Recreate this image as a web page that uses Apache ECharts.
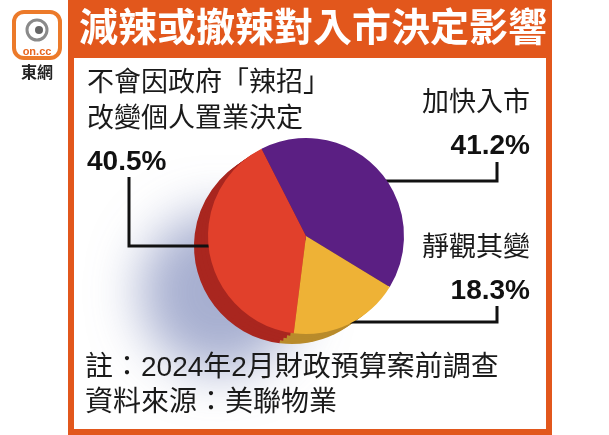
<!DOCTYPE html>
<html>
<head>
<meta charset="utf-8">
<script src="https://cdn.jsdelivr.net/npm/echarts@6/dist/echarts.min.js"></script>
<style>
  html, body { margin: 0; padding: 0; background: #fff; }
  #chart { width: 609px; height: 435px; }
</style>
</head>
<body>
<div id="chart"></div>
<script>
// 資料
const categories = ['加快入市', '靜觀其變', '不會因政府「辣招」\n改變個人置業決定'];
const shares = [41.2, 18.3, 40.5];
const titleText = '減辣或撤辣對入市決定影響';
const noteLines = ['註：2024年2月財政預算案前調查', '資料來源：美聯物業'];

// 顏色
const faceColors = ['#5b1f83', '#eeb236', '#e1402b'];
const sideColors = ['#3e1260', '#b98b2b', '#a9261f'];
const orange = '#e2571c';

// 標籤位置 (x, y, 對齊, 引導線)
const labelSpots = [
  { x: 530, y: 83, align: 'right', line: [[374, 181], [497, 181], [497, 162]] },
  { x: 530, y: 228, align: 'right', line: [[350, 322], [497, 322], [497, 306]] },
  { x: 87, y: 63, align: 'left', line: [[219, 246], [129, 246], [129, 177]] }
];

const cjk = "'Noto Sans CJK TC', 'Noto Sans CJK SC', sans-serif";
const latin = "'Liberation Sans', Arial, 'Noto Sans CJK TC', sans-serif";

function richFor(align) {
  return {
    n: { fontFamily: cjk, fontSize: 27, lineHeight: 36, color: '#1a1a1a', align: align },
    v: { fontFamily: latin, fontSize: 28, fontWeight: 'bold', lineHeight: 54, color: '#111', align: align }
  };
}

// 系列的版面向左右放寬, 免得標籤被截斷
const pad = 300;
const centerFront = [306, 236];
const centerBack = [292, 246];
const radius = 98;
const total = shares.reduce((a, b) => a + b, 0);

function box(c) {
  return { left: -pad, right: -pad, top: 0, bottom: 0, center: [c[0] + pad, c[1]] };
}

var myChart = echarts.init(document.getElementById('chart'));

let series = [];

// 陰影
series.push(Object.assign(box(centerBack), {
  type: 'pie',
  radius: 80,
  silent: true,
  label: { show: false },
  labelLine: { show: false },
  itemStyle: {
    color: '#fff',
    shadowColor: 'rgba(95, 110, 170, 0.55)',
    shadowBlur: 50,
    shadowOffsetX: -72,
    shadowOffsetY: 46
  },
  data: [{ value: total, name: 'shadow' }],
  z: 1
}));

// 側面 (幾層疊起來)
for (let k = 4; k >= 1; k--) {
  let c = [
    centerFront[0] + (centerBack[0] - centerFront[0]) * k / 4,
    centerFront[1] + (centerBack[1] - centerFront[1]) * k / 4
  ];
  series.push(Object.assign(box(c), {
    type: 'pie',
    radius: radius,
    startAngle: 117,
    silent: true,
    label: { show: false },
    labelLine: { show: false },
    data: shares.map((v, i) => ({
      value: v,
      name: categories[i],
      itemStyle: { color: sideColors[i] }
    })),
    z: 2
  }));
}

// 正面
series.push(Object.assign(box(centerFront), {
  type: 'pie',
  radius: radius,
  startAngle: 117,
  silent: true,
  labelLine: {
    show: true,
    lineStyle: { color: '#111', width: 3 }
  },
  labelLayout: function (params) {
    let s = labelSpots[params.dataIndex];
    return {
      x: s.x,
      y: s.y,
      align: s.align,
      verticalAlign: 'top',
      labelLinePoints: s.line
    };
  },
  data: shares.map((v, i) => ({
    value: v,
    name: categories[i],
    itemStyle: { color: faceColors[i] },
    label: {
      show: true,
      overflow: 'none',
      formatter: function (p) {
        let lines = p.name.split('\n').map(s => '{n|' + s + '}');
        return lines.join('\n') + '\n{v|' + p.value.toFixed(1) + '%}';
      },
      rich: richFor(labelSpots[i].align)
    }
  })),
  z: 3
}));

option = {
  animation: false,
  backgroundColor: '#fff',
  graphic: [
    // 外框
    {
      type: 'rect', z: 0,
      shape: { x: 71, y: 2, width: 478, height: 430 },
      style: { fill: '#fff', stroke: orange, lineWidth: 6 }
    },
    {
      type: 'rect', z: 0,
      shape: { x: 68, y: 2, width: 484, height: 56 },
      style: { fill: orange }
    },
    // 東網 logo
    {
      type: 'rect', z: 5,
      shape: { x: 14, y: 12, width: 46, height: 46, r: 10 },
      style: { fill: '#fff', stroke: '#ec7a2a', lineWidth: 4 }
    },
    {
      type: 'circle', z: 6,
      shape: { cx: 37, cy: 30, r: 10 },
      style: { fill: '#fff', stroke: '#8a8a8a', lineWidth: 3 }
    },
    {
      type: 'circle', z: 6,
      shape: { cx: 39, cy: 30, r: 4 },
      style: { fill: '#666' }
    },
    {
      type: 'text', z: 6,
      style: { text: 'on.cc', x: 37, y: 46, align: 'center', fill: '#e8661e', font: 'bold 11px ' + latin }
    },
    {
      type: 'text', z: 6,
      style: { text: '東網', x: 37, y: 64, align: 'center', fill: '#222', font: 'bold 16px ' + cjk }
    },
    // 標題
    {
      type: 'text', z: 6,
      style: { text: titleText, x: 313, y: 7, align: 'center', fill: '#fff', font: 'bold 39px ' + cjk }
    },
    // 註
    {
      type: 'text', z: 6,
      style: { text: noteLines.join('\n'), x: 85, y: 351, fill: '#1a1a1a', font: '28px ' + latin, lineHeight: 35 }
    }
  ],
  series: series
};

myChart.setOption(option);
</script>
</body>
</html>
